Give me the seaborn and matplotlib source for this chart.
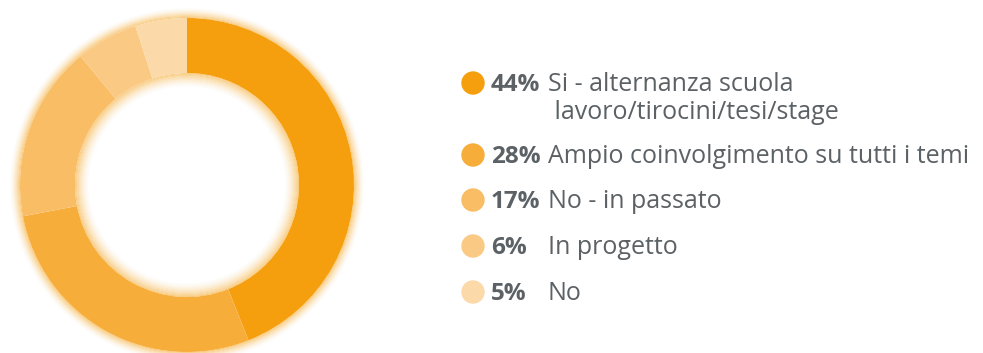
import matplotlib
matplotlib.use("Agg")
import matplotlib.pyplot as plt
from matplotlib.patches import Wedge, Circle
import seaborn as sns

# Survey shares and labels
percentages = [44, 28, 17, 6, 5]
labels = [
    "Si - alternanza scuola\n lavoro/tirocini/tesi/stage",
    "Ampio coinvolgimento su tutti i temi",
    "No - in passato",
    "In progetto",
    "No",
]
colors = ["#F59F0E", "#F7AD3A", "#F8BD65", "#FAC983", "#FBD9A8"]

sns.set_theme(style="white")
plt.rcParams["font.family"] = ["Open Sans", "DejaVu Sans"]

W, H = 983, 353
fig = plt.figure(figsize=(W / 100, H / 100), dpi=100)
ax = fig.add_axes([0, 0, 1, 1])

cx, cy = 187, H - 185
r_out, r_in = 167, 112

# soft glow around the ring edges
glow = "#F5A623"
n_out, n_in = 10, 14
for i in range(n_out):
    a = 0.55 * (1 - i / n_out) ** 1.6
    ax.add_patch(Wedge((cx, cy), r_out + i + 1, 0, 360, width=1.05,
                       color=glow, alpha=a, lw=0))
for i in range(n_in):
    a = 0.55 * (1 - i / n_in) ** 1.6
    ax.add_patch(Wedge((cx, cy), r_in - i, 0, 360, width=1.05,
                       color=glow, alpha=a, lw=0))

ax.pie(percentages, colors=colors, startangle=90, counterclock=False,
       radius=r_out, center=(cx, cy),
       wedgeprops=dict(width=r_out - r_in, linewidth=0))

ax.set_xlim(0, W)
ax.set_ylim(0, H)
ax.set_aspect("equal")
ax.axis("off")

# legend rows
dot_y = [83, 155, 200, 246, 292]
base_y = [91, 163, 208, 254, 300]
txt_col = "#5B6165"
for p, lab, c, dy, by in zip(percentages, labels, colors, dot_y, base_y):
    ax.add_patch(Circle((473, H - dy), 11.7, color=c, lw=0))
    ax.text(491, H - by, f"{p}%", fontsize=17.5, fontweight="bold",
            color=txt_col, va="baseline", ha="left")
    for k, ln in enumerate(lab.split("\n")):
        ax.text(548, H - by - 28 * k, ln, fontsize=18,
                color=txt_col, va="baseline", ha="left")

fig.savefig("out.png", dpi=100)
